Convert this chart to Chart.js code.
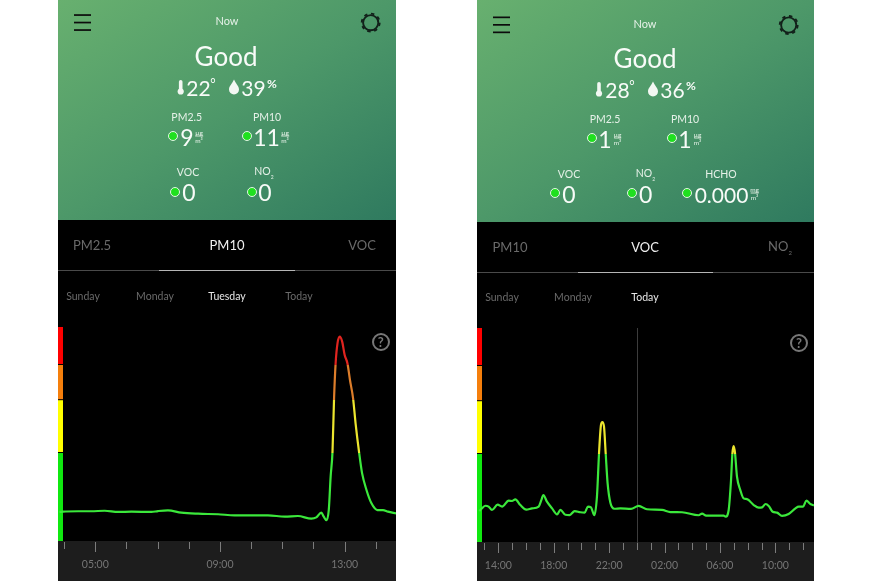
<!DOCTYPE html>
<html>
<head>
<meta charset="utf-8">
<script src="https://cdn.jsdelivr.net/npm/chart.js@4/dist/chart.umd.min.js"></script>
<style>
  html, body { margin: 0; background: #fff; width: 872px; height: 581px; overflow: hidden; font-family: Lato, sans-serif; }
  .box { position: absolute; }
  .t { position: absolute; white-space: nowrap; line-height: 1; transform: translate(-50%, -50%); }
  .head { background: linear-gradient(to bottom right, #68b06f 0%, #4d9869 50%, #2f7a5f 100%); top: 0; }
  .dark { background: #000; bottom: 0; }
  .dot { position: absolute; width: 8px; height: 8px; border: 1.5px solid #e4f5e6; border-radius: 50%; background: #1fe01f; transform: translate(-50%, -50%); }
  .unit { position: absolute; font-size: 6.5px; line-height: 7px; color: #e8f3ea; text-align: center; transform: translate(-50%, -50%); }
  .unit span { display: block; border-bottom: 0.5px solid #cfe3d4; }
  canvas { position: absolute; }
</style>
</head>
<body>
<canvas id="pm10Chart" width="338" height="254" style="left:58px;top:327px;width:338px;height:254px"></canvas>
<canvas id="vocChart" width="337" height="254" style="left:477px;top:328px;width:337px;height:254px"></canvas>
<script>
// PM10 readings, hours of the day
const pm10Hours = [3.85, 3.96, 4.45, 4.87, 5.30, 5.73, 6.16, 6.80, 7.01, 7.33, 7.76, 8.30, 8.94, 9.47, 10.54, 11.08, 11.50, 11.93, 12.09, 12.25, 12.33, 12.41, 12.49, 12.55, 12.61, 12.66, 12.71, 12.77, 12.84, 12.92, 13.00, 13.09, 13.17, 13.27, 13.35, 13.46, 13.56, 13.70, 13.86, 14.05, 14.23, 14.39, 14.65];
const pm10Values = [16.5, 16.7, 16.9, 16.9, 17.2, 16.5, 16.7, 16.5, 17.0, 17.4, 16.1, 15.5, 15.2, 14.6, 14.6, 13.8, 14.2, 12.7, 13.4, 16.1, 13.8, 11.9, 17.6, 36.6, 50.8, 81.1, 100.9, 112.3, 116.1, 113.3, 105.7, 100.9, 91.5, 81.1, 66.9, 50.8, 38.4, 29.0, 21.4, 17.6, 17.6, 16.7, 15.7];

// VOC readings, hours past the start of the first day (24 = midnight)
const vocHours = [12.62, 12.75, 13.06, 13.30, 13.54, 13.95, 14.27, 14.75, 14.99, 15.23, 15.59, 16.02, 16.43, 16.91, 17.11, 17.25, 17.51, 17.88, 18.24, 18.48, 18.84, 19.15, 19.51, 19.92, 20.23, 20.47, 20.69, 20.93, 21.12, 21.27, 21.41, 21.51, 21.63, 21.75, 21.89, 22.09, 22.38, 22.81, 23.58, 24.13, 24.73, 25.82, 26.42, 27.26, 28.46, 28.71, 29.00, 30.27, 30.41, 30.63, 30.80, 30.90, 30.99, 31.09, 31.23, 31.47, 31.71, 31.95, 32.44, 32.80, 33.04, 33.30, 33.52, 33.81, 34.12, 34.48, 34.96, 35.45, 35.69, 36.00, 36.24, 36.53, 36.79];
const vocValues = [17.6, 18.6, 20.6, 20.1, 18.2, 21.2, 20.1, 23.5, 23.3, 24.2, 21.0, 18.4, 19.1, 20.1, 23.9, 26.7, 22.9, 19.1, 15.7, 18.2, 15.5, 15.3, 17.6, 16.9, 16.7, 20.1, 19.7, 15.2, 25.8, 50.4, 66.5, 68.2, 65.5, 50.4, 33.3, 22.3, 18.9, 19.1, 18.8, 20.5, 18.6, 18.2, 17.0, 16.9, 15.2, 16.1, 15.0, 15.0, 14.4, 18.2, 35.2, 50.4, 54.5, 50.4, 37.1, 29.5, 24.8, 24.4, 21.0, 19.5, 19.7, 21.6, 20.5, 17.2, 16.7, 14.8, 15.9, 19.1, 20.1, 20.1, 23.5, 21.6, 20.8];

// air quality bands on the y axis
const zoneLimits = [0, 50, 80, 100, 121.6];
const zoneColors = ['#10e810', '#ffff00', '#f57f0c', '#ff0000'];
const lineColors = ['#3be83b', '#ece52e', '#dc7d2a', '#e0241f'];

function addText(text, x, y, size, color, weight) {
    const el = document.createElement('div');
    el.className = 't';
    el.innerHTML = text;
    el.style.cssText = `left:${x}px;top:${y}px;font-size:${size}px;color:${color};font-weight:${weight || 400}`;
    document.body.appendChild(el);
}

function addBox(className, x, w, h) {
    const el = document.createElement('div');
    el.className = 'box ' + className;
    el.style.cssText = `left:${x}px;width:${w}px;height:${h}px`;
    document.body.insertBefore(el, document.body.firstChild);
}

function addDot(x, y) {
    const el = document.createElement('div');
    el.className = 'dot';
    el.style.cssText = `left:${x}px;top:${y}px`;
    document.body.appendChild(el);
}

function addUnit(top, bottom, x, y) {
    const el = document.createElement('div');
    el.className = 'unit';
    el.innerHTML = `<span>${top}</span>${bottom}`;
    el.style.cssText = `left:${x}px;top:${y}px`;
    document.body.appendChild(el);
}

function addIcons(menuX, menuY, gearX, gearY, thermoX, dropX, rowY) {
    const el = document.createElementNS('http://www.w3.org/2000/svg', 'svg');
    el.setAttribute('width', 872);
    el.setAttribute('height', 581);
    el.style.cssText = 'position:absolute;left:0;top:0;pointer-events:none';
    let s = '';
    [0, 7.5, 15].forEach(d => {
        s += `<rect x="${menuX}" y="${menuY + d}" width="17" height="1.7" fill="#0c0c0c"/>`;
    });
    s += `<circle cx="${gearX}" cy="${gearY}" r="7.6" fill="none" stroke="#12201a" stroke-width="1.9"/>`;
    s += `<circle cx="${gearX}" cy="${gearY}" r="9" fill="none" stroke="#12201a" stroke-width="1.8" stroke-dasharray="3.4 3.67"/>`;
    s += `<rect x="${thermoX - 1.8}" y="${rowY - 7}" width="3.6" height="11" rx="1.8" fill="#f2f7f2"/>`;
    s += `<circle cx="${thermoX}" cy="${rowY + 4.5}" r="3.1" fill="#f2f7f2"/>`;
    s += `<path d="M${dropX} ${rowY - 7.5} C${dropX + 2} ${rowY - 3} ${dropX + 5} ${rowY - 1} ${dropX + 5} ${rowY + 2.5} A5 5 0 0 1 ${dropX - 5} ${rowY + 2.5} C${dropX - 5} ${rowY - 1} ${dropX - 2} ${rowY - 3} ${dropX} ${rowY - 7.5}Z" fill="#f2f7f2"/>`;
    el.innerHTML = s;
    document.body.appendChild(el);
}

function addHelp(x, y) {
    const el = document.createElement('div');
    el.className = 't';
    el.textContent = '?';
    el.style.cssText = `left:${x}px;top:${y}px;width:14px;height:14px;border:2px solid #777;border-radius:50%;color:#777;font-size:13px;font-weight:700;line-height:14px;text-align:center`;
    document.body.appendChild(el);
}

function addTabLine(left, right, y, active1, active2) {
    const base = document.createElement('div');
    base.className = 'box';
    base.style.cssText = `left:${left}px;top:${y}px;width:${right - left}px;height:1px;background:#4a4a4a`;
    document.body.appendChild(base);
    const active = document.createElement('div');
    active.className = 'box';
    active.style.cssText = `left:${active1}px;top:${y - 0.5}px;width:${active2 - active1}px;height:1.5px;background:#b5b5b5`;
    document.body.appendChild(active);
}

const W = '#f8fbf8';
const SOFT = '#e6f1e8';
const DIM = '#6a6a6a';

// left phone
addBox('head', 58, 338, 220);
addBox('dark', 58, 338, 361);
addIcons(74, 14.2, 370.7, 22.7, 180.7, 234, 87);
addText('Now', 227, 20, 11, SOFT);
addText('Good', 226, 55.5, 26, W);
addText('22', 198.5, 87, 21, W);
addText('°', 213, 83, 13, W);
addText('39', 253.5, 87, 21, W);
addText('%', 272, 84, 12, W, 700);
addText('PM2.5', 186.7, 116.5, 10.5, SOFT);
addText('PM10', 267, 116.5, 10.5, SOFT);
addDot(173, 136);
addText('9', 187, 136.5, 23, W);
addUnit('µg', 'm³', 199, 136);
addDot(247, 136);
addText('11', 266.5, 136.5, 23, W);
addUnit('µg', 'm³', 285, 136);
addText('VOC', 188, 172, 10.5, SOFT);
addText('NO<sub style="font-size:5px">2</sub>', 264, 172.5, 10.5, SOFT);
addDot(175, 191.7);
addText('0', 189, 192, 23, W);
addDot(251.7, 191.7);
addText('0', 265, 192, 23, W);
addText('PM2.5', 92, 245, 13, DIM);
addText('PM10', 227, 245, 13, '#f0f0f0');
addText('VOC', 362, 245, 13, DIM);
addTabLine(58, 396, 270, 159, 295);
addText('Sunday', 83, 296, 10.5, DIM);
addText('Monday', 155, 296, 10.5, DIM);
addText('Tuesday', 227, 296, 10.5, '#e8e8e8');
addText('Today', 299, 296, 10.5, DIM);

// right phone
addBox('head', 477, 337, 222);
addBox('dark', 477, 337, 359);
addIcons(493, 16.5, 788.7, 25, 599, 653, 89);
addText('Now', 645, 22.5, 11, SOFT);
addText('Good', 645, 58, 26, W);
addText('28', 617.5, 89, 21, W);
addText('°', 632, 85, 13, W);
addText('36', 672.5, 89, 21, W);
addText('%', 691, 86, 12, W, 700);
addText('PM2.5', 605, 119, 10.5, SOFT);
addText('PM10', 685, 119, 10.5, SOFT);
addDot(592, 138);
addText('1', 605, 138.5, 23, W);
addUnit('µg', 'm³', 617.5, 138);
addDot(672, 138);
addText('1', 685, 138.5, 23, W);
addUnit('µg', 'm³', 697.5, 138);
addText('VOC', 569, 174, 10.5, SOFT);
addText('NO<sub style="font-size:5px">2</sub>', 645.5, 174.5, 10.5, SOFT);
addText('HCHO', 721, 174, 10.5, SOFT);
addDot(555, 193);
addText('0', 569, 193.5, 23, W);
addDot(632, 193);
addText('0', 645.7, 193.5, 23, W);
addDot(687, 193);
addText('0.000', 721.5, 193.5, 21, W);
addUnit('mg', 'm³', 754.5, 193);
addText('PM10', 510, 247, 13, DIM);
addText('VOC', 645, 247, 13, '#f0f0f0');
addText('NO<sub style="font-size:6px">2</sub>', 780, 248, 13, DIM);
addTabLine(477, 814, 272, 578, 713);
addText('Sunday', 502, 297, 10.5, DIM);
addText('Monday', 573, 297, 10.5, DIM);
addText('Today', 645, 297, 10.5, '#e8e8e8');

// bands, axis strip and tick marks
const phonePlugin = {
    id: 'phone',
    beforeDraw(chart) {
        const { ctx, chartArea, width, height } = chart;
        ctx.fillStyle = '#1d1d1d';
        ctx.fillRect(0, chartArea.bottom, width, height - chartArea.bottom);
    },
    beforeDatasetsDraw(chart, args, opts) {
        const { ctx, chartArea, scales } = chart;
        zoneColors.forEach((color, i) => {
            const top = scales.y.getPixelForValue(zoneLimits[i + 1]);
            const bottom = scales.y.getPixelForValue(zoneLimits[i]);
            ctx.fillStyle = color;
            ctx.fillRect(0, top, 5, bottom - top - (i ? 1 : 0));
        });
        if (opts.midnight) {
            const x = Math.round(scales.x.getPixelForValue(opts.midnight)) + 0.5;
            ctx.strokeStyle = '#3c3c3c';
            ctx.lineWidth = 1;
            ctx.beginPath();
            ctx.moveTo(x, chartArea.top);
            ctx.lineTo(x, chartArea.bottom + 8);
            ctx.stroke();
        }
    },
    afterDraw(chart, args, opts) {
        const { ctx, chartArea, scales } = chart;
        ctx.strokeStyle = '#7c7c7c';
        ctx.lineWidth = 1;
        scales.x.ticks.forEach(t => {
            const x = Math.round(scales.x.getPixelForValue(t.value)) + 0.5;
            const major = (t.value - opts.firstMajor) % 4 === 0;
            ctx.beginPath();
            ctx.moveTo(x, chartArea.bottom + 1);
            ctx.lineTo(x, chartArea.bottom + (major ? 11 : 8));
            ctx.stroke();
        });
    }
};

function zoneGradient(context) {
    const { ctx, chartArea } = context.chart;
    if (!chartArea) return lineColors[0];
    const g = ctx.createLinearGradient(0, chartArea.bottom, 0, chartArea.top);
    const top = zoneLimits[zoneLimits.length - 1];
    lineColors.forEach((color, i) => {
        g.addColorStop(zoneLimits[i] / top, color);
        g.addColorStop(zoneLimits[i + 1] / top, color);
    });
    return g;
}

function makeChart(id, hours, values, xMin, xMax, firstMajor, midnight) {
    return new Chart(document.getElementById(id), {
        type: 'line',
        data: {
            datasets: [{
                data: hours.map((h, i) => ({ x: h, y: values[i] })),
                borderColor: zoneGradient,
                borderWidth: 2.2,
                pointRadius: 0,
                cubicInterpolationMode: 'monotone',
                fill: false
            }]
        },
        options: {
            responsive: false,
            animation: false,
            layout: { padding: 0 },
            plugins: {
                legend: { display: false },
                tooltip: { enabled: false },
                phone: { firstMajor: firstMajor, midnight: midnight }
            },
            scales: {
                x: {
                    type: 'linear',
                    min: xMin,
                    max: xMax,
                    afterFit: scale => {
                        scale.height = 40;
                        scale.paddingLeft = 0;
                        scale.paddingRight = 0;
                    },
                    grid: { display: false, drawTicks: false },
                    border: { display: false },
                    ticks: {
                        stepSize: 1,
                        includeBounds: false,
                        autoSkip: false,
                        maxRotation: 0,
                        padding: 17,
                        color: '#757575',
                        font: { family: 'Lato', size: 10.5 },
                        callback: v => (v - firstMajor) % 4 === 0
                            ? String(v % 24).padStart(2, '0') + ':00' : ''
                    }
                },
                y: { display: false, min: zoneLimits[0], max: zoneLimits[4] }
            }
        },
        plugins: [phonePlugin]
    });
}

makeChart('pm10Chart', pm10Hours, pm10Values, 3.803, 14.647, 5, null);
makeChart('vocChart', vocHours, vocValues, 12.46, 36.79, 14, 24);

addHelp(380.7, 342);
addHelp(799, 343);
</script>
</body>
</html>
